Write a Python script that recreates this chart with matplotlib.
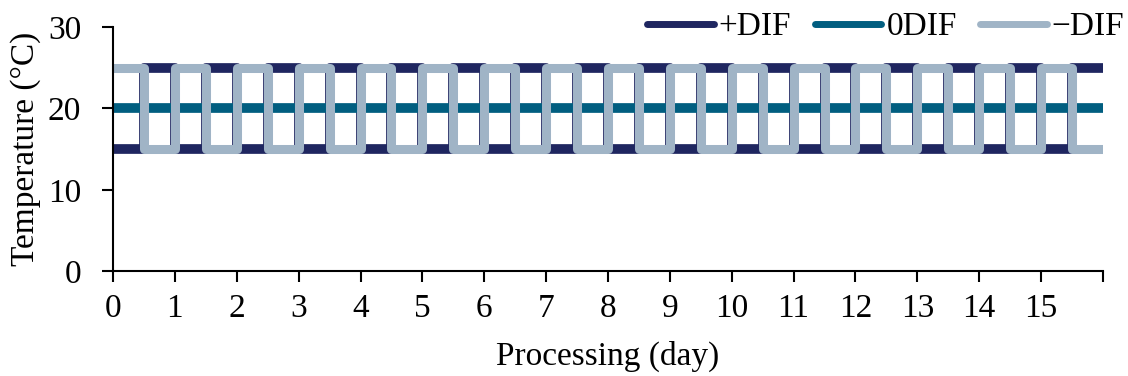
import matplotlib
matplotlib.use('Agg')
import matplotlib.pyplot as plt

# half-day boundaries (days)
edges = [0, 0.5, 1, 1.5, 2, 2.5, 3, 3.5, 4, 4.5, 5, 5.5, 6, 6.5, 7, 7.5, 8,
         8.5, 9, 9.5, 10, 10.5, 11, 11.5, 12, 12.5, 13, 13.5, 14, 14.5, 15, 15.5, 16]

# temperature (°C) in each half-day
plus_dif = [15, 25, 15, 25, 15, 25, 15, 25, 15, 25, 15, 25, 15, 25, 15, 25,
            15, 25, 15, 25, 15, 25, 15, 25, 15, 25, 15, 25, 15, 25, 15, 25]
zero_dif = [20, 20, 20, 20, 20, 20, 20, 20, 20, 20, 20, 20, 20, 20, 20, 20,
            20, 20, 20, 20, 20, 20, 20, 20, 20, 20, 20, 20, 20, 20, 20, 20]
minus_dif = [25, 15, 25, 15, 25, 15, 25, 15, 25, 15, 25, 15, 25, 15, 25, 15,
             25, 15, 25, 15, 25, 15, 25, 15, 25, 15, 25, 15, 25, 15, 25, 15]

labels = ['+DIF', '0DIF', '\u2212DIF']
colors = ['#1f2660', '#015e80', '#a0b4c6']
x_ticks = list(range(17))
x_tick_labels = [str(i) for i in range(16)] + ['']
y_ticks = [0, 10, 20, 30]

plt.rcParams['font.family'] = ['Liberation Serif', 'DejaVu Serif']
plt.rcParams['font.size'] = 24

fig = plt.figure(figsize=(11.28, 3.76), dpi=100)
ax = fig.add_axes([0.1002, 0.279, 0.8776, 0.649])

handles = []
for vals, c, lw, lab in zip([plus_dif, zero_dif, minus_dif], colors, [7, 7, 6.5], labels):
    ax.stairs(vals, edges, baseline=None, color=c, linewidth=lw,
              joinstyle='round', capstyle='round', label=lab)
    h, = ax.plot([], [], color=c, linewidth=5, solid_capstyle='round', label=lab)
    handles.append(h)

ax.set_xlim(0, 16)
ax.set_ylim(0, 30)
ax.set_xticks(x_ticks)
ax.set_xticklabels(x_tick_labels)
ax.set_yticks(y_ticks)
ax.spines['top'].set_visible(False)
ax.spines['right'].set_visible(False)
for s in ['left', 'bottom']:
    ax.spines[s].set_linewidth(1.5)
ax.tick_params(axis='both', direction='out', length=8, width=1.5)
ax.tick_params(axis='x', pad=8)
ax.tick_params(axis='y', pad=15)

ax.set_xlabel('Processing (day)', labelpad=12)
ax.set_ylabel('Temperature (\u00b0C)')
ax.yaxis.set_label_coords(-0.073, 0.5)

ax.legend(handles=handles, loc='center right', bbox_to_anchor=(1.035, 1.0),
          ncol=3, frameon=False, handlelength=2.0, handletextpad=0.15,
          columnspacing=0.7, borderaxespad=0)

fig.savefig('out.png', dpi=100)
